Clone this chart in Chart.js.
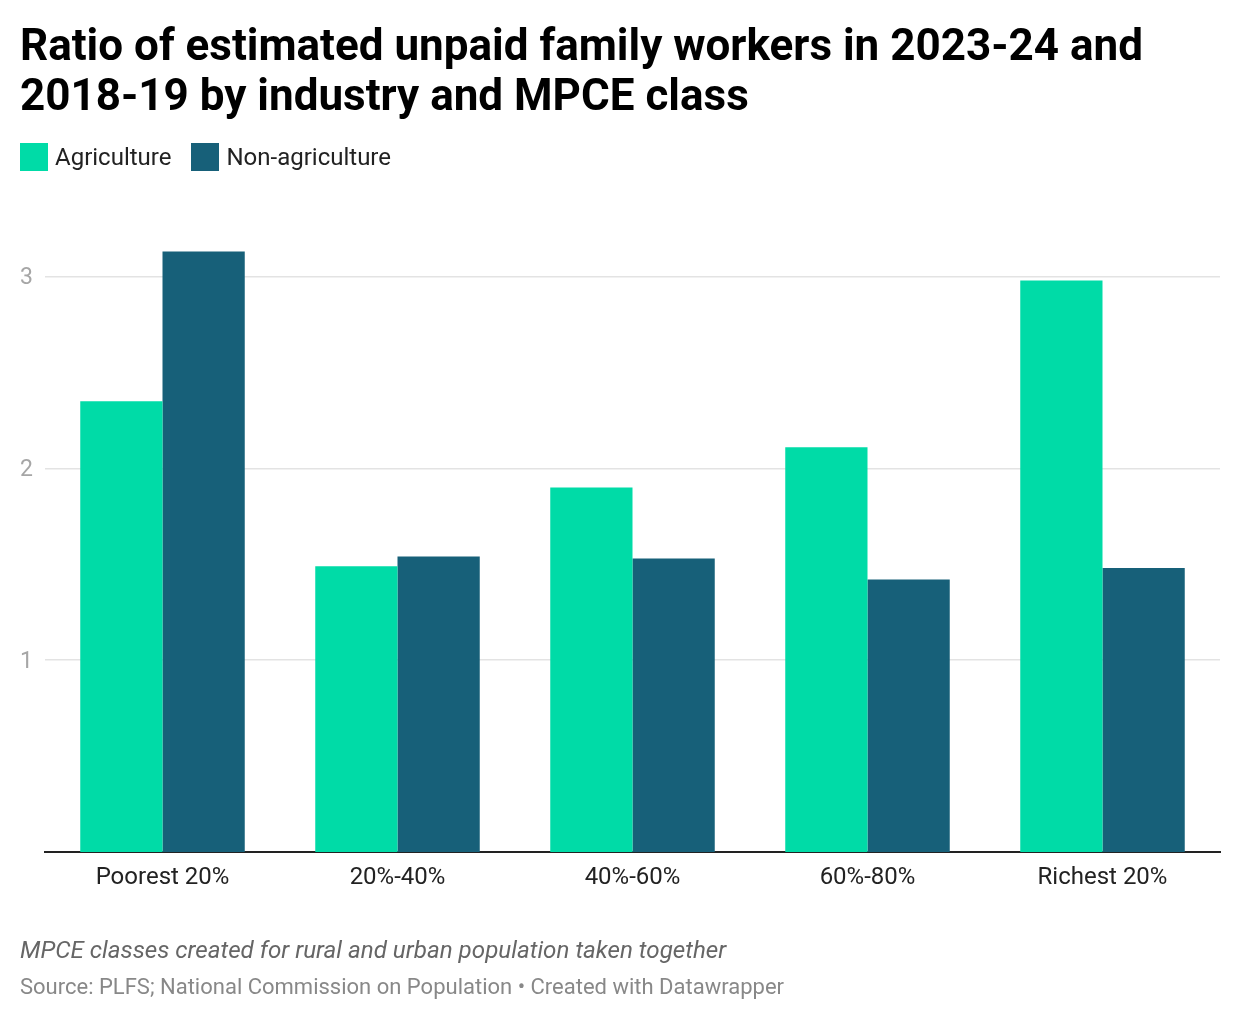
<!DOCTYPE html>
<html>
<head>
<meta charset="utf-8">
<script src="https://cdn.jsdelivr.net/npm/chart.js@4/dist/chart.umd.min.js"></script>
<style>
  html, body { margin:0; padding:0; background:#fff; }
  body { width:1240px; height:1022px; position:relative; overflow:hidden; font-family: Roboto, "Noto Sans", sans-serif; }
  #wrap { position:absolute; left:0; top:0; width:1240px; height:1022px; }
  .title { position:absolute; left:20px; top:20px; width:1210px; font-weight:700; font-size:44px; line-height:50px; color:#000; z-index:2; }
  .legend { position:absolute; left:20px; top:143px; height:28px; font-size:24px; color:#222; z-index:2; display:flex; align-items:center; }
  .legend .sw { display:inline-block; width:28px; height:28px; margin-right:7px; }
  .legend .item { display:flex; align-items:center; margin-right:20px; }
  .note { position:absolute; left:20px; top:936px; font-size:24.2px; line-height:28px; font-style:italic; color:#666; z-index:2; white-space:nowrap; }
  .source { position:absolute; left:20px; top:974px; font-size:22px; line-height:26px; color:#888; z-index:2; white-space:nowrap; }
</style>
</head>
<body>
<div class="title">Ratio of estimated unpaid family workers in 2023-24 and 2018-19 by industry and MPCE class</div>
<div class="legend">
  <div class="item"><span class="sw" style="background:#00dba7"></span>Agriculture</div>
  <div class="item"><span class="sw" style="background:#176079"></span>Non-agriculture</div>
</div>
<div id="wrap"><canvas id="c" width="1240" height="1022"></canvas></div>
<div class="note">MPCE classes created for rural and urban population taken together</div>
<div class="source">Source: PLFS; National Commission on Population • Created with Datawrapper</div>
<script>
const categories = ["Poorest 20%", "20%-40%", "40%-60%", "60%-80%", "Richest 20%"];
const agriculture = [2.35, 1.49, 1.90, 2.11, 2.98];
const nonAgriculture = [3.13, 1.54, 1.53, 1.42, 1.48];
const yTicks = [1, 2, 3];

new Chart(document.getElementById('c'), {
  type: 'bar',
  data: {
    labels: categories,
    datasets: [
      { label: 'Agriculture', data: agriculture, backgroundColor: '#00dba7', categoryPercentage: 0.7, barPercentage: 1.0 },
      { label: 'Non-agriculture', data: nonAgriculture, backgroundColor: '#176079', categoryPercentage: 0.7, barPercentage: 1.0 }
    ]
  },
  options: {
    responsive: false,
    animation: false,
    devicePixelRatio: 1,
    layout: { padding: { top: 219, right: 20, bottom: 110, left: 0 } },
    plugins: { legend: { display: false }, tooltip: { enabled: false } },
    scales: {
      x: {
        grid: { display: false, drawTicks: false },
        border: { display: true, color: '#222', width: 2 },
        ticks: { color: '#222', font: { family: 'Roboto', size: 24 }, padding: 12, maxRotation: 0 },
        afterFit: s => { s.height = 60; }
      },
      y: {
        min: 0, max: 3.3,
        afterBuildTicks: s => { s.ticks = yTicks.map(v => ({ value: v })); },
        grid: { color: '#e3e3e3', lineWidth: 1.5, drawTicks: false },
        border: { display: false },
        ticks: { color: '#a6a6a6', font: { family: 'Roboto', size: 23 }, padding: 12, labelOffset: 2 },
        afterFit: s => { s.width = 45; }
      }
    }
  }
});
</script>
</body>
</html>
